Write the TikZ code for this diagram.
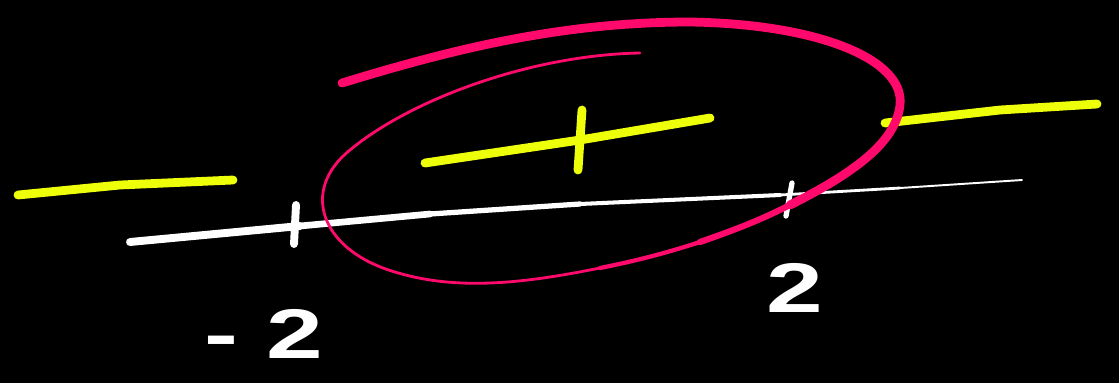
\documentclass[tikz,border=0pt]{standalone}
\usepackage{fontspec}
\setsansfont{Liberation Sans}
\usetikzlibrary{positioning}
\definecolor{sketchpink}{HTML}{FF0A6C}
\definecolor{sketchyellow}{HTML}{EEFF0A}

\begin{document}
\begin{tikzpicture}[x=0.02cm, y=-0.02cm, line cap=round, line join=round,
    chalk/.style={white, line width=#1},
    marker/.style={sketchyellow, line width=5pt},
    loop/.style={sketchpink, line width=#1},
    numlabel/.style={white, font=\sffamily\bfseries\fontsize{40}{40}\selectfont}]
    % Background
    \fill[black] (0,0) rectangle (1119,383);
    \useasboundingbox (0,0) rectangle (1119,383);

    % Number line (stroke gets thinner to the right)
    \draw[chalk=4.5pt] (130,242) -- (300,226);
    \draw[chalk=3.8pt] (300,226) -- (430,214);
    \draw[chalk=3pt] (430,214) -- (580,204);
    \draw[chalk=2.3pt] (580,204) -- (780,195);
    \draw[chalk=1.6pt] (780,195) -- (900,188);
    \draw[chalk=1.1pt] (900,188) -- (1022,180);
    \draw[chalk=4.5pt] (296,205) -- (294,244);
    \draw[chalk=3pt] (792,183) -- (786,216);

    % Labels
    \node[numlabel] (minustwo) at (264,334) {\scalebox{1.45}[1]{- 2}};
    \node[numlabel] (two) at (795,288) {\scalebox{1.45}[1]{2}};

    % Yellow pieces
    \draw[marker] (18,195) -- (120,185) -- (233,180);
    \draw[marker] (425,163) -- (580,140) -- (710,118);
    \draw[marker] (582,110) -- (578,170);
    \draw[marker] (885,123) -- (1000,110) -- (1097,104);

    % Pink loop
    \draw[loop=5pt] (342,83) .. controls (450,50) and (560,22) .. (690,22)
        .. controls (820,24) and (905,60) .. (900,105)
        .. controls (896,140) and (860,170) .. (790,205);
    \draw[loop=3.5pt] (790,205) .. controls (760,220) and (740,228) .. (700,242);
    \draw[loop=2.4pt] (700,242) .. controls (660,255) and (630,262) .. (600,268);
    \draw[loop=1.6pt] (600,268) .. controls (530,282) and (460,292) .. (395,272)
        .. controls (320,250) and (300,190) .. (350,150)
        .. controls (410,100) and (530,55) .. (640,53);
\end{tikzpicture}
\end{document}
